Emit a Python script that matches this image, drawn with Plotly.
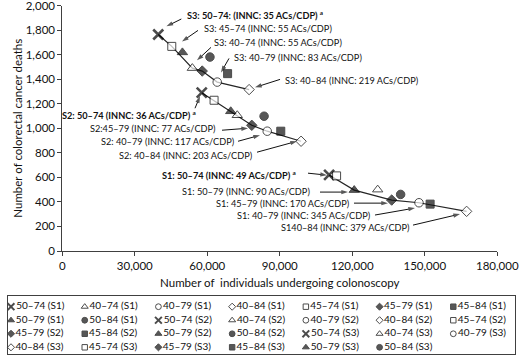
import plotly.graph_objects as go

W, H = 520, 356

# ---------------- data ----------------
strategies = ["50–74", "40–74", "40–79", "40–84", "45–74", "45–79", "45–84", "50–79", "50–84"]
scenarios = ["S1", "S2", "S3"]

s1_individuals = [110400, 130500, 147600, 167300, 113500, 136300, 152200, 120800, 140000]
s1_deaths = [620, 500, 393, 323, 612, 415, 382, 496, 461]
s2_individuals = [57700, 72400, 84800, 98800, 62800, 78400, 90400, 69700, 83500]
s2_deaths = [1290, 1106, 976, 894, 1228, 1024, 976, 1138, 1098]
s3_individuals = [39700, 53800, 64100, 77300, 45300, 57900, 68400, 49700, 61100]
s3_deaths = [1764, 1490, 1376, 1315, 1667, 1466, 1445, 1618, 1580]

s1_frontier = ["50–74", "50–79", "45–79", "40–79", "40–84"]
s2_frontier = ["50–74", "45–79", "40–79", "40–84"]
s3_frontier = ["50–74", "45–74", "40–74", "45–79", "40–79", "40–84"]

x_ticks = [0, 30000, 60000, 90000, 120000, 150000, 180000]
y_ticks = [0, 200, 400, 600, 800, 1000, 1200, 1400, 1600, 1800, 2000]

# label text, text x, text y, anchor, bold, arrow tail (x, y), arrow head (x, y)
labels = [
    ("S3: 50–74: (INNC: 35 ACs/CDP) <sup>a</sup>", 108900, 1920, "right", True, (49250, 1890), (43100, 1830)),
    ("S3: 45–74 (INNC: 55 ACs/CDP)", 57700, 1811, "left", False, (56150, 1797), (49530, 1707)),
    ("S3: 40–74 (INNC: 55 ACs/CDP)", 61800, 1702, "left", False, (61530, 1659), (55740, 1553)),
    ("S3: 40–79 (INNC: 83 ACs/CDP)", 70100, 1580, "left", False, (68980, 1569), (65670, 1455)),
    ("S3: 40–84 (INNC: 219 ACs/CDP)", 91200, 1390, "left", False, (90100, 1398), (79750, 1333)),
    ("S2: 50–74 (INNC: 36 ACs/CDP) <sup>a</sup>", 56150, 1111, "right", True, (54910, 1163), (56980, 1260)),
    ("S2:45–79 (INNC: 77 ACs/CDP)", 64430, 998, "right", False, (66090, 984), (76840, 1000)),
    ("S2: 40–79 (INNC: 117 ACs/CDP)", 72165, 889, "right", False, (72710, 894), (81810, 943)),
    ("S2: 40–84 (INNC: 203 ACs/CDP)", 79740, 780, "right", False, (80570, 805), (97120, 894)),
    ("S1: 50–74 (INNC: 49 ACs/CDP) <sup>a</sup>", 97540, 620, "right", True, (101670, 634), (109530, 618)),
    ("S1: 50–79 (INNC: 90 ACs/CDP)", 103200, 482, "right", False, (106640, 480), (118220, 480)),
    ("S1: 45–79 (INNC: 170 ACs/CDP)", 120000, 388, "right", False, (120700, 390), (134770, 390)),
    ("S1: 40–79 (INNC: 345 ACs/CDP)", 128690, 293, "right", False, (129390, 293), (145950, 350)),
    ("S140–84 (INNC: 379 ACs/CDP)", 144580, 189, "right", False, (145120, 211), (164570, 301)),
]

# ---------------- styling ----------------
FONT = "Lato"
INK = "#111111"
AXIS = "#404040"

sym_map = {
    "50–74": ("x-thin", "#000000"),
    "40–74": ("triangle-up", "white"),
    "40–79": ("circle", "white"),
    "40–84": ("diamond", "white"),
    "45–74": ("square", "white"),
    "45–79": ("diamond", "#111111"),
    "45–84": ("square", "#111111"),
    "50–79": ("triangle-up", "#111111"),
    "50–84": ("circle", "#111111"),
}
size_map = {"x-thin": 10, "triangle-up": 9, "circle": 8.5, "diamond": 8, "square": 8}

series = {
    "S1": (s1_individuals, s1_deaths, s1_frontier),
    "S2": (s2_individuals, s2_deaths, s2_frontier),
    "S3": (s3_individuals, s3_deaths, s3_frontier),
}

fig = go.Figure()

# efficient-frontier lines
for sc in scenarios:
    xs, ys, front = series[sc]
    idx = [strategies.index(s) for s in front]
    fig.add_trace(go.Scatter(
        x=[xs[i] for i in idx], y=[ys[i] for i in idx],
        mode="lines", line=dict(color="#262626", width=1.2),
        showlegend=False, hoverinfo="skip", xaxis="x", yaxis="y"))

# callout arrows (line + arrow-head marker oriented along the segment)
ax_x, ax_y, ax_sz = [], [], []
for _, _, _, _, _, tail, head in labels:
    ax_x += [tail[0], head[0], None]
    ax_y += [tail[1], head[1], None]
    ax_sz += [0, 7, 0]
fig.add_trace(go.Scatter(
    x=ax_x, y=ax_y, mode="lines+markers",
    line=dict(color="#111111", width=1),
    marker=dict(symbol="arrow", size=ax_sz, angleref="previous",
                color="#111111", line=dict(width=0)),
    showlegend=False, hoverinfo="skip", xaxis="x", yaxis="y"))

# strategy markers
for sc in scenarios:
    xs, ys, front = series[sc]
    syms = [sym_map[s][0] for s in strategies]
    cols = [sym_map[s][1] for s in strategies]
    fig.add_trace(go.Scatter(
        x=xs, y=ys, mode="markers",
        marker=dict(symbol=syms, color=cols,
                    size=[size_map[s] for s in syms],
                    line=dict(color="#000000",
                              width=[2.6 if s == "x-thin" else 1 for s in syms])),
        showlegend=False, name=sc, xaxis="x", yaxis="y",
        text=[f"{s} ({sc})" for s in strategies]))

# ---------------- legend (drawn in its own small axes) ----------------
leg_labels, leg_syms, leg_cols, leg_cx, leg_ry = [], [], [], [], []
k = 0
for sc in scenarios:
    for s in strategies:
        leg_labels.append(f"{s} ({sc})")
        leg_syms.append(sym_map[s][0])
        leg_cols.append(sym_map[s][1])
        leg_cx.append(k % 7)
        leg_ry.append(k // 7)
        k += 1

fig.add_trace(go.Scatter(
    x=leg_cx, y=leg_ry, mode="markers+text",
    text=leg_labels, textposition="middle right",
    textfont=dict(family=FONT, size=10, color=INK),
    marker=dict(symbol=leg_syms, color=leg_cols,
                size=[size_map[s] * 0.68 for s in leg_syms],
                line=dict(color="#000000",
                          width=[2.0 if s == "x-thin" else 1 for s in leg_syms])),
    cliponaxis=False, showlegend=False, hoverinfo="skip",
    xaxis="x2", yaxis="y2"))

# ---------------- annotations ----------------
annotations = []
for text, tx, ty, anchor, bold, tail, head in labels:
    annotations.append(dict(
        x=tx, y=ty, xref="x", yref="y", text=f"<b>{text}</b>" if bold else text,
        showarrow=False, xanchor=anchor, yanchor="middle",
        font=dict(family=FONT, size=9.2, color=INK)))

plot_l, plot_r, plot_t, plot_b = 62.3, 497.3, 5.5, 251

fig.update_layout(
    width=W, height=H,
    margin=dict(l=0, r=0, t=0, b=0, autoexpand=False),
    paper_bgcolor="white", plot_bgcolor="white",
    font=dict(family=FONT, color=INK),
    showlegend=False,
    annotations=annotations,
    xaxis=dict(
        domain=[plot_l / W, plot_r / W], range=[0, 180000], automargin=False,
        tickvals=x_ticks, tickformat=",", ticks="outside", ticklen=4,
        tickcolor=AXIS, showline=True, linecolor=AXIS, linewidth=1,
        showgrid=False, zeroline=False, anchor="y", ticklabeloverflow="allow",
        tickfont=dict(family=FONT, size=11.5, color=INK),
        title=dict(text="Number of  individuals undergoing colonoscopy",
                   font=dict(family=FONT, size=11.5, color=INK), standoff=8),
    ),
    yaxis=dict(
        domain=[(H - plot_b) / H, (H - plot_t) / H], range=[0, 2000], automargin=False,
        tickvals=y_ticks, tickformat=",", ticks="outside", ticklen=4,
        tickcolor=AXIS, showline=True, linecolor=AXIS, linewidth=1,
        showgrid=False, zeroline=False, anchor="x", ticklabeloverflow="allow",
        tickfont=dict(family=FONT, size=11.5, color=INK),
        title=dict(text="Number of colorectal cancer deaths",
                   font=dict(family=FONT, size=11.5, color=INK), standoff=0),
    ),
    xaxis2=dict(
        domain=[8 / W, 515 / W], range=[-0.0407, 6.837], anchor="y2", automargin=False,
        showline=True, mirror=True, linecolor=AXIS, linewidth=1,
        showticklabels=False, ticks="", showgrid=False, zeroline=False, fixedrange=True,
    ),
    yaxis2=dict(
        domain=[2 / H, 60 / H], range=[3.495, -0.791], anchor="x2", automargin=False,
        showline=True, mirror=True, linecolor=AXIS, linewidth=1,
        showticklabels=False, ticks="", showgrid=False, zeroline=False, fixedrange=True,
    ),
)

# remove the browser's default 8px page margin so the figure sits at the window origin
fig.write_html("out.html", config={"displayModeBar": False},
               post_script="document.body.style.margin='0px';")
